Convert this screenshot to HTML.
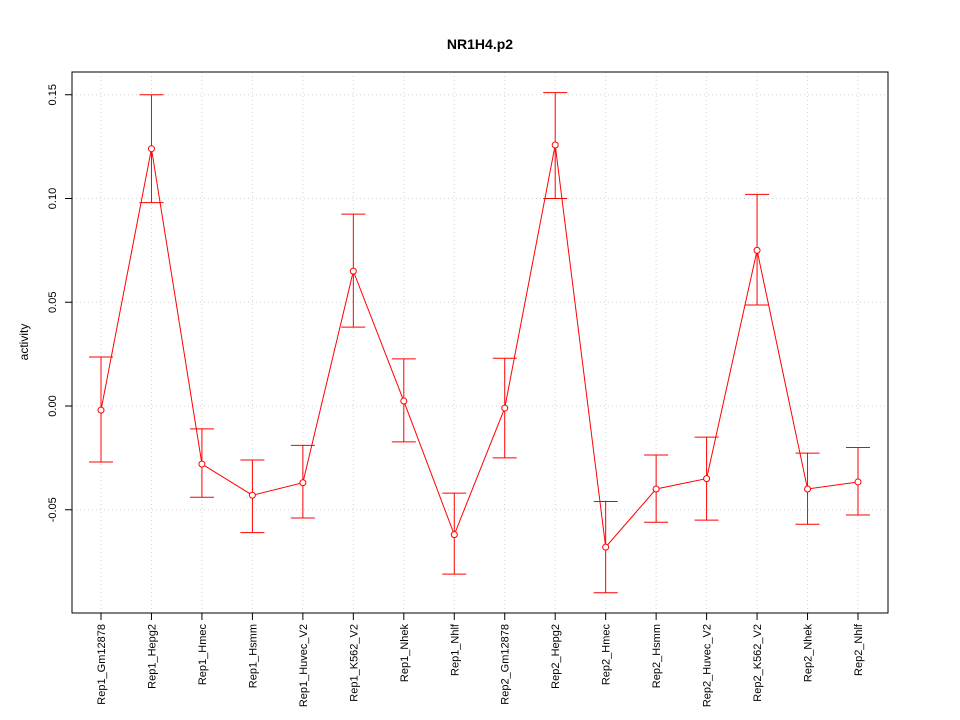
<!DOCTYPE html>
<html><head><meta charset="utf-8"><style>body{margin:0;background:#fff}svg{display:block;font-family:"Liberation Sans",sans-serif}</style></head>
<body>
<svg id="chart" width="960" height="720" viewBox="0 0 960 720">
<text x="480" y="49" text-anchor="middle" font-weight="bold" font-size="14">NR1H4.p2</text>
<text transform="translate(28,342) rotate(-90)" text-anchor="middle" font-size="12">activity</text>
<g id="grid"></g>
<g id="axes"></g>
<g id="marks"></g>
<rect x="72" y="72" width="816" height="541" fill="none" stroke="#000"/>
</svg>
<script>
const categories=["Rep1_Gm12878","Rep1_Hepg2","Rep1_Hmec","Rep1_Hsmm","Rep1_Huvec_V2","Rep1_K562_V2","Rep1_Nhek","Rep1_Nhlf","Rep2_Gm12878","Rep2_Hepg2","Rep2_Hmec","Rep2_Hsmm","Rep2_Huvec_V2","Rep2_K562_V2","Rep2_Nhek","Rep2_Nhlf"];
const values=[-0.002,0.124,-0.028,-0.043,-0.037,0.065,0.0024,-0.062,-0.001,0.1258,-0.068,-0.040,-0.035,0.075,-0.040,-0.0366];
const upper=[0.0236,0.150,-0.011,-0.026,-0.019,0.0925,0.0227,-0.042,0.023,0.151,-0.046,-0.0236,-0.015,0.102,-0.0227,-0.020];
const lower=[-0.027,0.098,-0.044,-0.061,-0.054,0.038,-0.0173,-0.081,-0.025,0.100,-0.090,-0.056,-0.055,0.0487,-0.057,-0.0525];
const yTicks=[-0.05,0,0.05,0.10,0.15];
const yTickLabels=["-0.05","0.00","0.05","0.10","0.15"];
const NS="http://www.w3.org/2000/svg";
const X=i=>101+i*(858-101)/(categories.length-1);
const Y=v=>406-v*2075;
function mk(tag,attrs,parent){const e=document.createElementNS(NS,tag);for(const k in attrs)e.setAttribute(k,attrs[k]);document.getElementById(parent).appendChild(e);return e;}
categories.forEach((c,i)=>{
 let g=mk('line',{x1:X(i),x2:X(i),y1:72,y2:613,stroke:'#d3d3d3','stroke-dasharray':'1,3'},'grid');
 
 
 let t=mk('line',{x1:X(i),x2:X(i),y1:613,y2:620,stroke:'#000'},'axes');
 
 
 let l=mk('text',{transform:`translate(${X(i)+4},624) rotate(-90)`,'text-anchor':'end','font-size':'11'},'axes');
 l.textContent=c;
 
 
});
yTicks.forEach((v,i)=>{
 let g=mk('line',{x1:72,x2:888,y1:Y(v),y2:Y(v),stroke:'#d3d3d3','stroke-dasharray':'1,3'},'grid');
 
 
 let t=mk('line',{x1:65,x2:72,y1:Y(v),y2:Y(v),stroke:'#000'},'axes');
 
 
 let l=mk('text',{transform:`translate(56,${Y(v)}) rotate(-90)`,'text-anchor':'middle','font-size':'11'},'axes');
 l.textContent=yTickLabels[i];
 
 
});
let pl=mk('polyline',{points:values.map((v,i)=>X(i)+','+Y(v)).join(' '),fill:'none',stroke:'#ff0000'},'marks');


values.forEach((v,i)=>{
 const x=X(i);
 let e=mk('path',{d:`M${x},${Y(upper[i])}V${Y(lower[i])}M${x-12},${Y(upper[i])}H${x+12}M${x-12},${Y(lower[i])}H${x+12}`,stroke:'#ff0000',fill:'none'},'marks');
 
 
 let c=mk('circle',{cx:x,cy:Y(v),r:3,fill:'#fff',stroke:'#ff0000'},'marks');
 
 
});
</script>
</body></html>
